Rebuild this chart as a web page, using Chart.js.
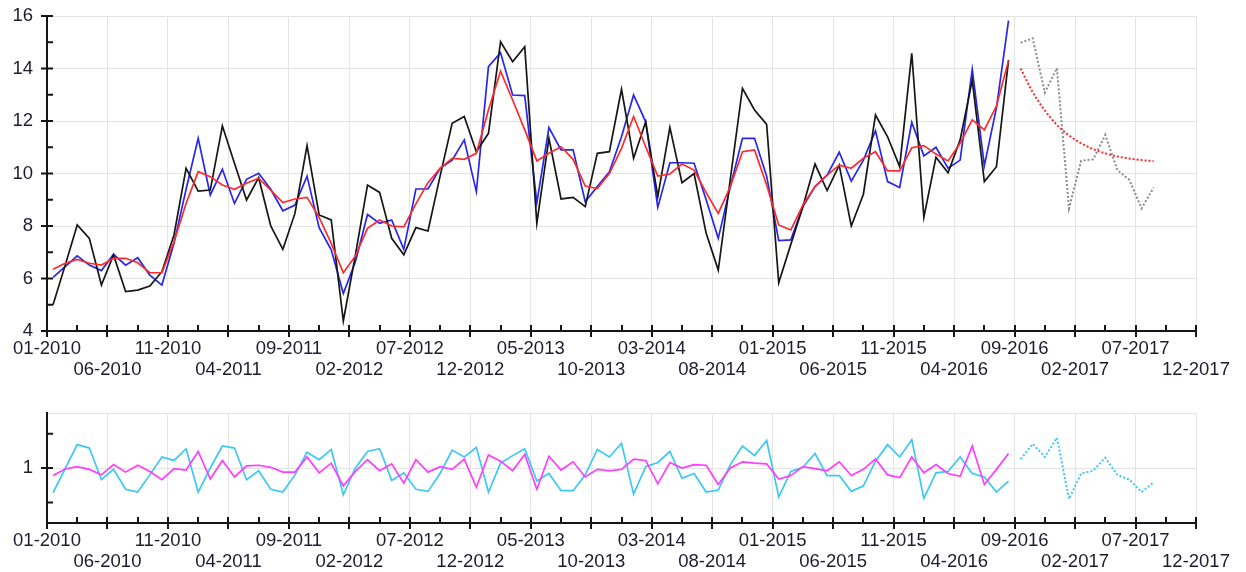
<!DOCTYPE html>
<html>
<head>
<meta charset="utf-8">
<script src="https://cdn.jsdelivr.net/npm/chart.js@4.4.1/dist/chart.umd.min.js"></script>
<style>
  html, body { margin: 0; padding: 0; background: #fff; width: 1246px; height: 572px; overflow: hidden; }
  canvas { position: absolute; left: 0; }
  #mainChart { top: 0; }
  #ratioChart { top: 395px; }
</style>
</head>
<body>
<canvas id="mainChart" width="1246" height="395"></canvas>
<canvas id="ratioChart" width="1246" height="177"></canvas>
<script>
// Axis labels, one every five months from 01-2010 to 12-2017
const tickLabels = ['01-2010', '06-2010', '11-2010', '04-2011', '09-2011', '02-2012', '07-2012',
  '12-2012', '05-2013', '10-2013', '03-2014', '08-2014', '01-2015', '06-2015', '11-2015',
  '04-2016', '09-2016', '02-2017', '07-2017', '12-2017'];

// Monthly history, 01-2010 .. 08-2016
const observed = [
  5.0, 6.5, 8.04, 7.53, 5.75, 6.9, 5.5, 5.56, 5.71, 6.26,
  7.66, 10.2, 9.33, 9.37, 11.81, 10.39, 8.99, 9.84, 8.0, 7.11,
  8.48, 11.06, 8.42, 8.23, 4.38, 6.9, 9.56, 9.28, 7.53, 6.9,
  7.94, 7.81, 9.9, 11.91, 12.17, 10.83, 11.53, 15.02, 14.26, 14.83,
  8.1, 11.34, 9.03, 9.09, 8.74, 10.77, 10.83, 13.21, 10.58, 11.97,
  9.12, 11.76, 9.65, 10.0, 7.72, 6.32, 9.8, 13.24, 12.42, 11.87,
  5.84, 7.3, 8.74, 10.36, 9.35, 10.32, 8.0, 9.21, 12.23, 11.4,
  10.26, 14.58, 8.33, 10.62, 10.03, 11.28, 13.56, 9.69, 10.26, 14.32];

const fitted = [
  6.04, 6.45, 6.86, 6.51, 6.3, 6.92, 6.51, 6.79, 6.13, 5.75,
  7.34, 9.4, 11.34, 9.18, 10.16, 8.86, 9.78, 10.01, 9.4, 8.58,
  8.8, 9.9, 7.94, 7.09, 5.43, 6.64, 8.44, 8.1, 8.23, 7.11,
  9.41, 9.41, 10.2, 10.51, 11.28, 9.31, 14.07, 14.6, 12.99, 12.97,
  8.89, 11.75, 10.9, 10.9, 8.93, 9.5, 10.07, 11.4, 12.99, 11.97,
  8.71, 10.41, 10.41, 10.39, 9.0, 7.53, 9.5, 11.34, 11.34, 9.9,
  7.44, 7.47, 8.74, 9.5, 9.94, 10.81, 9.71, 10.51, 11.63, 9.69,
  9.47, 11.95, 10.67, 11.0, 10.2, 10.51, 13.97, 10.3, 12.5, 15.82];

const level = [
  6.35, 6.58, 6.73, 6.58, 6.51, 6.77, 6.77, 6.6, 6.22, 6.22,
  7.4, 8.86, 10.07, 9.88, 9.56, 9.4, 9.63, 9.82, 9.37, 8.89,
  9.03, 9.09, 8.33, 7.34, 6.22, 6.86, 7.91, 8.23, 8.0, 7.97,
  8.84, 9.65, 10.2, 10.58, 10.54, 10.77, 12.42, 13.9, 12.8, 11.66,
  10.48, 10.77, 11.02, 10.54, 9.52, 9.43, 10.0, 10.96, 12.17, 11.02,
  9.9, 9.98, 10.36, 10.13, 9.27, 8.48, 9.5, 10.83, 10.9, 9.56,
  8.04, 7.85, 8.8, 9.5, 9.94, 10.32, 10.2, 10.58, 10.83, 10.1,
  10.1, 10.98, 11.06, 10.74, 10.48, 11.15, 12.04, 11.66, 12.57, 14.3];

// Twelve months ahead, 09-2016 .. 08-2017
const forecast = [14.98, 15.15, 13.08, 14.01, 8.67, 10.48, 10.54, 11.47, 10.13, 9.75, 8.67, 9.47];
const levelForecast = [14.0, 13.1, 12.4, 11.85, 11.45, 11.15, 10.93, 10.77, 10.65, 10.57, 10.51, 10.47];

// Lower panel: seasonal factor and ratio
const seasonal = [
  0.64, 0.99, 1.34, 1.29, 0.83, 0.98, 0.69, 0.65, 0.9, 1.16,
  1.11, 1.28, 0.65, 1.0, 1.32, 1.29, 0.83, 0.96, 0.69, 0.65,
  0.9, 1.23, 1.12, 1.27, 0.61, 1.0, 1.24, 1.28, 0.82, 0.93,
  0.69, 0.66, 0.92, 1.26, 1.16, 1.3, 0.65, 1.07, 1.18, 1.28,
  0.81, 0.92, 0.67, 0.67, 0.9, 1.27, 1.16, 1.36, 0.62, 1.02,
  1.08, 1.24, 0.85, 0.92, 0.65, 0.68, 1.05, 1.32, 1.18, 1.4,
  0.58, 0.95, 1.01, 1.21, 0.89, 0.89, 0.66, 0.74, 1.1, 1.34,
  1.16, 1.41, 0.56, 0.93, 0.95, 1.16, 0.92, 0.87, 0.65, 0.81];

const ratio = [
  0.89, 0.985, 1.02, 0.98, 0.9, 1.05, 0.94, 1.04, 0.95, 0.83,
  0.99, 0.97, 1.24, 0.84, 1.11, 0.87, 1.03, 1.04, 1.01, 0.94,
  0.94, 1.16, 0.93, 1.07, 0.74, 0.95, 1.12, 0.96, 1.06, 0.78,
  1.12, 0.94, 1.02, 0.98, 1.13, 0.72, 1.19, 1.1, 0.96, 1.2,
  0.69, 1.17, 0.97, 1.09, 0.87, 0.98, 0.96, 0.98, 1.13, 1.11,
  0.77, 1.08, 1.0, 1.05, 1.04, 0.76, 1.0, 1.09, 1.07, 1.06,
  0.84, 0.89, 1.02, 0.99, 0.96, 1.09, 0.89, 0.98, 1.13, 0.9,
  0.86, 1.16, 0.93, 1.05, 0.92, 0.88, 1.32, 0.76, 0.98, 1.21];

const seasonalForecast = [1.13, 1.35, 1.16, 1.44, 0.55, 0.92, 0.96, 1.15, 0.9, 0.83, 0.65, 0.79];

// Month index 0 = 01-2010; each value sits in the middle of its month
const toPoints = (values, firstMonth) => values.map((v, i) => ({ x: firstMonth + i + 0.5, y: v }));
const historyStart = 0;
const forecastStart = observed.length;

const FONT = { family: "'Liberation Sans', Arial, sans-serif", size: 18.5, lineHeight: 1.15 };
const TEXT = '#1c1c2c';
const GRID = '#e4e4e4';
const AXIS = '#151515';

// Tick marks: major ones cross the axis, minor ones point into the plot
const tickMarks = {
  id: 'tickMarks',
  afterDraw(chart, args, opts) {
    const { ctx, chartArea: a, scales: { x, y } } = chart;
    ctx.save();
    ctx.strokeStyle = AXIS;
    ctx.lineWidth = 2;
    ctx.beginPath();
    for (let m = x.min; m <= x.max + 1e-6; m += opts.xStep / 2) {
      const px = Math.round(x.getPixelForValue(m));
      const major = Math.abs(m / opts.xStep - Math.round(m / opts.xStep)) < 1e-6;
      ctx.moveTo(px, a.bottom - 6);
      ctx.lineTo(px, a.bottom + (major ? 6 : 0));
    }
    opts.yMajor.forEach(v => {
      const py = y.getPixelForValue(v);
      ctx.moveTo(a.left - 6, py); ctx.lineTo(a.left + 6, py);
    });
    opts.yMinor.forEach(v => {
      const py = y.getPixelForValue(v);
      ctx.moveTo(a.left, py); ctx.lineTo(a.left + 6, py);
    });
    ctx.stroke();
    ctx.restore();
  }
};

// The layout padding alone decides where the plot area sits
const noOverhang = s => { s.paddingTop = 0; s.paddingBottom = 0; s.paddingLeft = 0; s.paddingRight = 0; };

function xScale(height) {
  return {
    type: 'linear',
    min: 0,
    max: 95,
    afterBuildTicks: s => { s.ticks = tickLabels.map((_, k) => ({ value: k * 5 })); },
    afterFit: s => { s.height = height; noOverhang(s); },
    grid: { color: GRID, lineWidth: 1, drawTicks: false },
    border: { color: AXIS, width: 2 },
    ticks: {
      autoSkip: false, maxRotation: 0, minRotation: 0, padding: 7,
      color: TEXT, font: FONT,
      callback: v => {
        const k = Math.round(v / 5);
        return k % 2 ? ['', tickLabels[k]] : [tickLabels[k], ''];
      }
    }
  };
}

function yScale(min, max, values, labelled) {
  return {
    min, max,
    afterBuildTicks: s => { s.ticks = values.map(v => ({ value: v })); },
    afterFit: s => { s.width = 47; noOverhang(s); },
    grid: { color: GRID, lineWidth: 1, drawTicks: false },
    border: { color: AXIS, width: 2 },
    ticks: {
      padding: 14, color: TEXT, font: FONT,
      callback: v => (labelled.includes(v) ? String(v) : '')
    }
  };
}

const line = (data, color, extra) => Object.assign({
  data, borderColor: color, borderWidth: 1.7, pointRadius: 0, tension: 0, fill: false
}, extra || {});

const common = {
  type: 'line',
  plugins: [tickMarks],
};

new Chart(document.getElementById('mainChart'), {
  ...common,
  data: {
    datasets: [
      line(toPoints(level, historyStart), '#ff2a2a'),
      line(toPoints(observed, historyStart), '#161616'),
      line(toPoints(fitted, historyStart), '#2626ee'),
      line(toPoints(levelForecast, forecastStart), '#ff2a2a', { borderWidth: 2, borderDash: [2, 2], cubicInterpolationMode: 'monotone' }),
      line(toPoints(forecast, forecastStart), '#8c8c8c', { borderWidth: 2, borderDash: [2, 2] })
    ]
  },
  options: {
    responsive: false, animation: false, devicePixelRatio: 1,
    layout: { padding: { top: 16, right: 50, left: 0, bottom: 0 } },
    plugins: {
      legend: { display: false }, tooltip: { enabled: false },
      tickMarks: { xStep: 5, yMajor: [4, 6, 8, 10, 12, 14, 16], yMinor: [5, 7, 9, 11, 13, 15] }
    },
    scales: {
      x: xScale(64),
      y: yScale(4, 16, [4, 6, 8, 10, 12, 14, 16], [4, 6, 8, 10, 12, 14, 16])
    }
  }
});

new Chart(document.getElementById('ratioChart'), {
  ...common,
  data: {
    datasets: [
      line(toPoints(ratio, historyStart), '#ff3cff'),
      line(toPoints(seasonal, historyStart), '#3cc8f5'),
      line(toPoints(seasonalForecast, forecastStart), '#3cc8f5', { borderWidth: 2, borderDash: [2, 2] })
    ]
  },
  options: {
    responsive: false, animation: false, devicePixelRatio: 1,
    layout: { padding: { top: 18, right: 50, left: 0, bottom: 0 } },
    plugins: {
      legend: { display: false }, tooltip: { enabled: false },
      tickMarks: { xStep: 5, yMajor: [1], yMinor: [0.5, 1.5] }
    },
    scales: {
      x: xScale(49),
      y: yScale(0.2, 1.8, [0.2, 1, 1.8], [1])
    }
  }
});
</script>
</body>
</html>
